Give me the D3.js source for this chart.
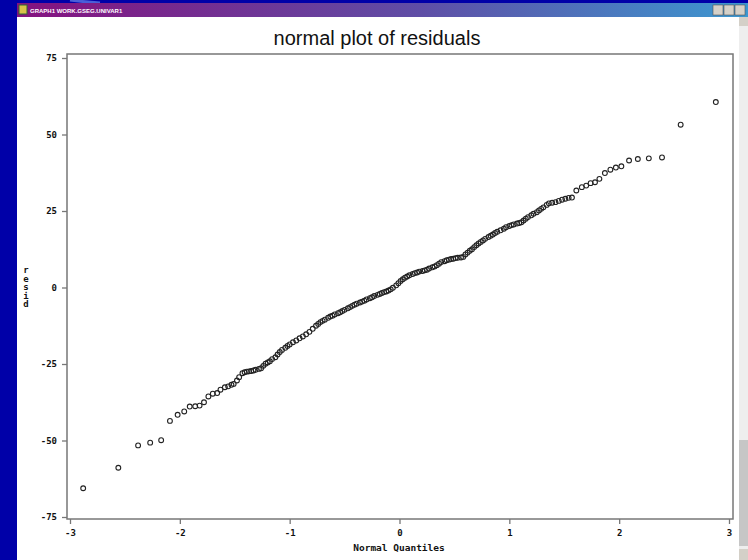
<!DOCTYPE html>
<html>
<head>
  <meta charset="utf-8">
  <title>normal plot of residuals</title>
<script type="text/javascript" src="https://cdnjs.cloudflare.com/ajax/libs/d3/7.8.5/d3.min.js"></script>
<style>
  body { margin: 0; background: #0000a8; overflow: hidden; }
  svg { display: block; }
  .tick text { font-family: "DejaVu Sans Mono", monospace; font-weight: bold; font-size: 9px; fill: #111; }
  .tick line { stroke: #777; stroke-width: 1.3; }
</style>
</head>
<body>
<div class="chart"></div>

<script type="text/javascript">

// normal quantiles (x) and sorted residuals (y)
const quantiles = [
  -2.88, -2.56, -2.38, -2.27, -2.17, -2.09, -2.02, -1.96, -1.91, -1.86,
  -1.82, -1.78, -1.74, -1.70, -1.66, -1.63, -1.59, -1.56, -1.53, -1.51,
  -1.48, -1.46, -1.43, -1.41, -1.39, -1.37, -1.35, -1.33, -1.31, -1.28,
  -1.26, -1.24, -1.22, -1.20, -1.18, -1.16, -1.13, -1.11, -1.09, -1.07,
  -1.04, -1.02, -1.00, -0.97, -0.94, -0.91, -0.88, -0.85, -0.82, -0.79,
  -0.76, -0.74, -0.72, -0.70, -0.68, -0.65, -0.63, -0.61, -0.59, -0.56,
  -0.54, -0.52, -0.50, -0.47, -0.45, -0.43, -0.41, -0.39, -0.36, -0.34,
  -0.32, -0.30, -0.27, -0.25, -0.23, -0.20, -0.18, -0.16, -0.14, -0.12,
  -0.10, -0.08, -0.06, -0.03, -0.01, 0.01, 0.03, 0.05, 0.07, 0.09,
  0.12, 0.14, 0.16, 0.18, 0.21, 0.23, 0.25, 0.27, 0.30, 0.32,
  0.34, 0.36, 0.38, 0.41, 0.43, 0.45, 0.47, 0.49, 0.51, 0.53,
  0.56, 0.58, 0.60, 0.62, 0.64, 0.66, 0.68, 0.70, 0.72, 0.74,
  0.76, 0.78, 0.81, 0.83, 0.85, 0.87, 0.89, 0.92, 0.95, 0.97,
  1.00, 1.02, 1.04, 1.07, 1.09, 1.11, 1.13, 1.15, 1.17, 1.20,
  1.22, 1.25, 1.27, 1.29, 1.31, 1.34, 1.36, 1.39, 1.42, 1.45,
  1.48, 1.51, 1.54, 1.57, 1.61, 1.66, 1.70, 1.74, 1.78, 1.82,
  1.87, 1.92, 1.97, 2.02, 2.09, 2.17, 2.27, 2.39, 2.56, 2.88
];

const residuals = [
  -65.6, -58.9, -51.6, -50.7, -49.9, -43.6, -41.6, -40.5, -38.9, -38.8,
  -38.6, -37.5, -35.6, -34.7, -34.5, -33.4, -32.6, -32.3, -31.8, -31.5,
  -30.4, -29.3, -28.0, -27.7, -27.5, -27.4, -27.3, -27.1, -26.9, -26.6,
  -26.4, -25.6, -24.9, -24.5, -24.1, -23.4, -22.8, -21.9, -21.1, -20.4,
  -19.7, -19.1, -18.6, -17.9, -17.3, -16.6, -16.0, -15.3, -14.5, -13.5,
  -12.5, -11.9, -11.3, -10.9, -10.5, -9.9, -9.5, -9.2, -8.8, -8.4,
  -8.1, -7.7, -7.3, -6.8, -6.4, -6.0, -5.6, -5.3, -4.9, -4.6,
  -4.3, -3.9, -3.5, -3.2, -2.8, -2.4, -2.1, -1.8, -1.5, -1.3,
  -1.0, -0.6, -0.1, 0.7, 1.4, 2.1, 2.7, 3.2, 3.6, 4.0,
  4.4, 4.7, 4.9, 5.2, 5.4, 5.6, 5.8, 6.2, 6.6, 6.9,
  7.3, 7.8, 8.3, 8.6, 8.9, 9.1, 9.3, 9.4, 9.6, 9.7,
  9.8, 10.0, 10.8, 11.4, 12.0, 12.5, 13.2, 13.8, 14.4, 14.9,
  15.4, 15.9, 16.5, 16.9, 17.3, 17.8, 18.2, 18.7, 19.2, 19.7,
  20.1, 20.4, 20.6, 20.9, 21.1, 21.3, 21.9, 22.5, 23.0, 23.6,
  24.1, 24.6, 25.2, 25.7, 26.2, 27.0, 27.5, 27.7, 27.9, 28.3,
  28.7, 29.0, 29.3, 29.4, 31.7, 32.8, 33.3, 34.1, 34.4, 35.5,
  37.4, 38.5, 39.2, 39.6, 41.5, 42.0, 42.2, 42.5, 53.2, 60.6
];

const xTicks = [-3, -2, -1, 0, 1, 2, 3];
const yTicks = [-75, -50, -25, 0, 25, 50, 75];

const W = 748, H = 560;

const svg = d3.select(".chart").append("svg")
    .attr("width", W)
    .attr("height", H);

// window chrome ---------------------------
const grad = svg.append("defs").append("linearGradient")
    .attr("id", "bar");
grad.append("stop").attr("offset", "0%").attr("stop-color", "#85127f");
grad.append("stop").attr("offset", "55%").attr("stop-color", "#5f4ea6");
grad.append("stop").attr("offset", "100%").attr("stop-color", "#3c98d0");

svg.append("rect").attr("x", 0).attr("y", 0).attr("width", W).attr("height", H)
    .attr("fill", "#0000a8");
svg.append("path")
    .attr("d", "M70,0 Q85,2 100,3")
    .attr("stroke", "#4a5fd8").attr("stroke-width", 3).attr("fill", "none");

svg.append("rect").attr("x", 17).attr("y", 3).attr("width", W - 17).attr("height", 14)
    .attr("fill", "url(#bar)");
svg.append("rect").attr("x", 19).attr("y", 5).attr("width", 8).attr("height", 9)
    .attr("fill", "#d9c24a").attr("stroke", "#2f6a2f").attr("stroke-width", 1);
svg.append("text")
    .attr("x", 30).attr("y", 12.5)
    .attr("fill", "#fff")
    .style("font-family", "Liberation Sans, Arial, sans-serif")
    .style("font-weight", "bold")
    .style("font-size", "6px")
    .text("GRAPH1  WORK.GSEG.UNIVAR1");

[713, 724, 735].forEach(x => {
  svg.append("rect").attr("x", x).attr("y", 5).attr("width", 10).attr("height", 10)
      .attr("fill", "#d4d0c8").attr("stroke", "#555").attr("stroke-width", 0.6);
});

svg.append("rect").attr("x", 17).attr("y", 17).attr("width", W - 17).attr("height", H - 17)
    .attr("fill", "#fff");

// scrollbar
svg.append("rect").attr("x", 739).attr("y", 17).attr("width", 9).attr("height", H - 17)
    .attr("fill", "#eeeeee");
svg.append("rect").attr("x", 739).attr("y", 440).attr("width", 9).attr("height", 106)
    .attr("fill", "#c6c6c6");
svg.append("rect").attr("x", 739).attr("y", 17).attr("width", 9).attr("height", 9)
    .attr("fill", "#d4d0c8");
svg.append("rect").attr("x", 739).attr("y", 549).attr("width", 9).attr("height", 11)
    .attr("fill", "#d4d0c8");

// plot ------------------------------------
const frame = {left: 67, top: 54, right: 733, bottom: 519};

const xScale = d3.scaleLinear().domain([-3, 3]).range([70, 729]);
const yScale = d3.scaleLinear().domain([-75, 75]).range([517, 58]);

svg.append("text")
    .attr("x", 377).attr("y", 45)
    .attr("text-anchor", "middle")
    .attr("fill", "#111")
    .style("font-family", "Liberation Sans, Arial, sans-serif")
    .style("font-size", "20px")
    .text("normal plot of residuals");

svg.append("rect")
    .attr("x", frame.left).attr("y", frame.top)
    .attr("width", frame.right - frame.left)
    .attr("height", frame.bottom - frame.top)
    .attr("fill", "none")
    .attr("stroke", "#777")
    .attr("stroke-width", 1.5);

const xAxis = d3.axisBottom(xScale)
    .tickValues(xTicks)
    .tickSize(5)
    .tickPadding(6)
    .tickFormat(d => String(d));

const yAxis = d3.axisLeft(yScale)
    .tickValues(yTicks)
    .tickSize(5)
    .tickPadding(5)
    .tickFormat(d => String(d));

svg.append("g")
    .attr("class", "x-axis")
    .attr("transform", "translate(0," + frame.bottom + ")")
    .call(xAxis)
    .call(g => g.select(".domain").remove());

svg.append("g")
    .attr("class", "y-axis")
    .attr("transform", "translate(" + frame.left + ",0)")
    .call(yAxis)
    .call(g => g.select(".domain").remove());

svg.append("text")
    .attr("x", 399).attr("y", 551)
    .attr("text-anchor", "middle")
    .attr("fill", "#111")
    .style("font-family", "DejaVu Sans Mono, monospace")
    .style("font-weight", "bold")
    .style("font-size", "9.5px")
    .text("Normal Quantiles");

// stacked y label
const ylab = "resid".split("");
svg.append("g").selectAll("text")
    .data(ylab)
    .join("text")
    .attr("x", 26)
    .attr("y", (d, i) => 273 + i * 8.5)
    .attr("text-anchor", "middle")
    .attr("fill", "#111")
    .style("font-family", "DejaVu Sans Mono, monospace")
    .style("font-weight", "bold")
    .style("font-size", "9px")
    .text(d => d);

const points = quantiles.map((q, i) => ({q: q, r: residuals[i]}));

svg.append("g").selectAll("circle")
    .data(points)
    .join("circle")
    .attr("cx", d => xScale(d.q))
    .attr("cy", d => yScale(d.r))
    .attr("r", 2.4)
    .attr("fill", "none")
    .attr("stroke", "#222")
    .attr("stroke-width", 1.1);

</script>
</body>
</html>
